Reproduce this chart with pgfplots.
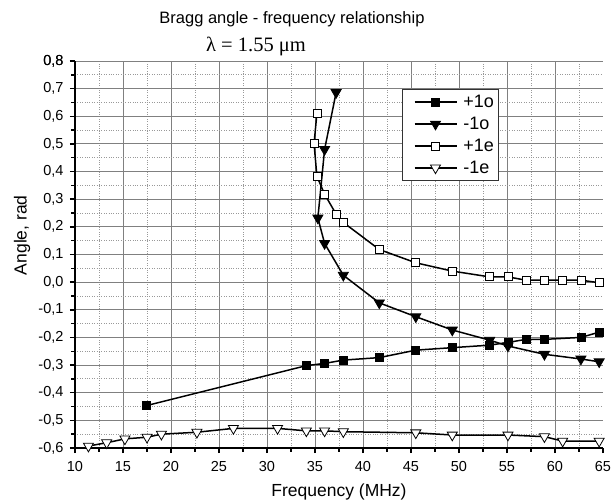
\documentclass[border=0pt]{standalone}
\usepackage{fontspec}
\setmainfont{Liberation Sans}
\newfontfamily\timesf{Liberation Serif}
\usepackage{pgfplots}
\pgfplotsset{compat=1.18}
\usepackage{pgfplotstable}

% Bragg angle vs frequency
\pgfplotstableread{
f a
17.4 -0.447
34.1 -0.302
36.0 -0.294
37.95 -0.282
41.7 -0.273
45.5 -0.246
49.3 -0.237
53.2 -0.228
55.1 -0.218
57.0 -0.207
58.9 -0.207
62.7 -0.200
64.6 -0.181
}\plusoneo

\pgfplotstableread{
f a
37.2 0.686
36.0 0.480
35.3 0.232
36.0 0.140
37.95 0.025
41.7 -0.075
45.5 -0.125
49.3 -0.173
53.2 -0.210
55.1 -0.231
58.9 -0.261
62.7 -0.278
64.6 -0.288
}\minusoneo

\pgfplotstableread{
f a
35.2 0.610
34.9 0.501
35.2 0.383
36.0 0.318
37.2 0.246
37.95 0.216
41.7 0.118
45.5 0.070
49.3 0.040
53.2 0.019
55.1 0.019
57.0 0.007
58.9 0.007
60.8 0.007
62.7 0.007
64.6 -0.002
}\plusonee

\pgfplotstableread{
f a
11.4 -0.593
13.3 -0.581
15.2 -0.567
17.5 -0.561
19.0 -0.550
22.7 -0.543
26.5 -0.529
31.1 -0.529
34.1 -0.538
36.0 -0.538
37.95 -0.541
45.5 -0.545
49.3 -0.553
55.1 -0.553
58.9 -0.559
60.8 -0.575
64.6 -0.575
}\minusonee

\begin{document}
\begin{tikzpicture}
\useasboundingbox (-75pt,-53pt) rectangle (541pt,448pt);
\begin{axis}[
    at={(0,0)}, anchor=south west,
    scale only axis,
    width=528pt, height=387pt,
    xmin=10, xmax=65, ymin=-0.6, ymax=0.8,
    axis x line=bottom, axis y line=left,
    axis line style={-, line width=1.8pt},
    xtick={10,15,...,60}, extra x ticks={65},
    ytick={-0.6,-0.5,...,0.75}, extra y ticks={0.8},
    extra tick style={grid=none},
    minor xtick={12.5,17.5,...,62.5},
    minor ytick={-0.55,-0.45,...,0.76},
    grid=both,
    major grid style={black!50, line width=0.9pt},
    minor grid style={black!40, dotted, line width=0.9pt},
    tick align=outside,
    major tick length=5pt, minor tick length=3.5pt,
    tick style={black, line width=1.5pt},
    /pgf/number format/assume math mode=true,
    tick label style={font=\fontsize{14.5}{16}\selectfont},
    xticklabel style={/pgf/number format/precision=0, yshift=-5pt},
    yticklabel style={xshift=-3pt, /pgf/number format/.cd, fixed, fixed zerofill, precision=1, use comma},
    xlabel={Frequency (MHz)},
    ylabel={Angle, rad},
    label style={font=\fontsize{17.5}{20}\selectfont},
    xlabel style={at={(axis description cs:0.5,-0.113)}, anchor=center},
    ylabel style={at={(axis description cs:-0.1,0.55)}, anchor=center},
    clip=false,
    legend style={at={(0.62,0.928)}, anchor=north west, draw=black!80,
        line width=0.8pt, fill=white, font=\fontsize{18}{21}\selectfont,
        inner xsep=3pt, inner ysep=4pt, row sep=4pt},
    legend cell align=left,
    legend image code/.code={\path (0pt,0pt) (54pt,0pt);
        \draw[mark repeat=2,mark phase=2,#1]
        plot coordinates {(8pt,0pt) (29pt,0pt) (50pt,0pt)};},
    every axis plot/.append style={black, line width=1.5pt},
]
\addplot[mark=square*, mark size=4pt, mark options={solid, line width=0.8pt, fill=black}]
    table[x=f, y=a] {\plusoneo};
\addplot[mark=triangle*, mark size=5.8pt, mark options={solid, rotate=180, line width=0.8pt, fill=black}]
    table[x=f, y=a] {\minusoneo};
\addplot[mark=square*, mark size=4pt, mark options={solid, line width=0.8pt, fill=white}]
    table[x=f, y=a] {\plusonee};
\addplot[mark=triangle*, mark size=5.8pt, mark options={solid, rotate=180, line width=0.8pt, fill=white}]
    table[x=f, y=a] {\minusonee};
\legend{+1o, -1o, +1e, -1e}
\end{axis}
\node[anchor=base, font=\fontsize{16.5}{19}\selectfont] at (217pt,424pt)
    {Bragg angle - frequency relationship};
\node[anchor=base, font=\timesf\fontsize{20.5}{24}\selectfont] at (181pt,396pt)
    {λ = 1.55 μm};
\end{tikzpicture}
\end{document}
